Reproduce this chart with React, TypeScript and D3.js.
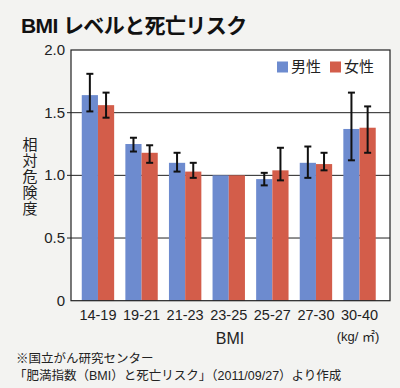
import { useEffect, useRef } from 'react'
import * as d3 from 'd3'

const categories = ['14-19', '19-21', '21-23', '23-25', '25-27', '27-30', '30-40']
const male = [1.64, 1.25, 1.10, 1.00, 0.97, 1.10, 1.37]
const maleLo = [1.51, 1.19, 1.03, null, 0.92, 0.98, 1.12]
const maleHi = [1.81, 1.30, 1.18, null, 1.02, 1.23, 1.66]
const female = [1.56, 1.18, 1.03, 1.00, 1.04, 1.09, 1.38]
const femaleLo = [1.46, 1.10, 0.98, null, 0.96, 1.04, 1.18]
const femaleHi = [1.66, 1.24, 1.10, null, 1.22, 1.18, 1.55]
const yTicks = [0, 0.5, 1.0, 1.5, 2.0]
const seriesNames = ['男性', '女性']
const colors = ['#6d8bcf', '#d35d4a']

const W = 400
const H = 388
const FONT = "'Liberation Sans', 'Noto Sans CJK JP', sans-serif"

export default function App() {
  const svgRef = useRef<SVGSVGElement>(null)

  useEffect(() => {
    const svg = d3.select(svgRef.current)
    svg.selectAll('*').remove()

    const left = 71, right = 390, top = 50, bottom = 300.7

    svg.append('rect').attr('width', W).attr('height', H).attr('fill', '#f3f3f1')

    // Title
    svg.append('text')
      .attr('x', 21).attr('y', 33)
      .style('font-family', FONT).style('font-size', '21px').style('font-weight', 'bold')
      .style('letter-spacing', '-0.6px')
      .attr('fill', '#111')
      .text('BMI レベルと死亡リスク')

    const x = d3.scaleBand<string>().domain(categories).range([left, right])
      .paddingInner(0.257).paddingOuter(0.287).align(0.43)
    const sub = d3.scaleBand<string>().domain(seriesNames).range([0, x.bandwidth()])
    const y = d3.scaleLinear().domain([0, 2]).range([bottom, top])

    // plot area
    svg.append('rect').attr('x', left).attr('y', top)
      .attr('width', right - left).attr('height', bottom - top)
      .attr('fill', '#fff')

    // gridlines
    svg.append('g').selectAll('line').data(yTicks.filter(t => t > 0 && t < 2)).join('line')
      .attr('x1', left - 4).attr('x2', right)
      .attr('y1', d => y(d)).attr('y2', d => y(d))
      .attr('stroke', '#222').attr('stroke-width', 1)

    // y tick labels
    svg.append('g').selectAll('text').data(yTicks).join('text')
      .attr('x', 65).attr('y', d => y(d) + 5)
      .attr('text-anchor', 'end')
      .style('font-family', FONT).style('font-size', '15px')
      .attr('fill', '#222')
      .text(d => (d === 0 ? '0' : d.toFixed(1)))

    // bars
    const series = [
      { name: seriesNames[0], v: male, lo: maleLo, hi: maleHi, c: colors[0] },
      { name: seriesNames[1], v: female, lo: femaleLo, hi: femaleHi, c: colors[1] },
    ]
    series.forEach(s => {
      const g = svg.append('g')
      g.selectAll('rect').data(categories).join('rect')
        .attr('x', d => x(d)! + sub(s.name)!)
        .attr('y', (_, i) => y(s.v[i]))
        .attr('width', sub.bandwidth())
        .attr('height', (_, i) => bottom - y(s.v[i]))
        .attr('fill', s.c)
    })
    series.forEach(s => {
      const g = svg.append('g').attr('stroke', '#111').attr('stroke-width', 2).attr('fill', 'none')
      categories.forEach((cat, i) => {
        const lo = s.lo[i], hi = s.hi[i]
        if (lo == null || hi == null) return
        const cx = x(cat)! + sub(s.name)! + sub.bandwidth() / 2
        g.append('line').attr('x1', cx).attr('x2', cx).attr('y1', y(hi)).attr('y2', y(lo))
        g.append('line').attr('x1', cx - 3.5).attr('x2', cx + 3.5).attr('y1', y(hi)).attr('y2', y(hi))
        g.append('line').attr('x1', cx - 3.5).attr('x2', cx + 3.5).attr('y1', y(lo)).attr('y2', y(lo))
      })
    })

    // frame
    svg.append('rect').attr('x', left).attr('y', top)
      .attr('width', right - left).attr('height', bottom - top)
      .attr('fill', 'none').attr('stroke', '#222').attr('stroke-width', 1.2)

    // legend
    seriesNames.forEach((n, i) => {
      const lx = 277 + i * 53
      svg.append('rect').attr('x', lx).attr('y', 61.5).attr('width', 11).attr('height', 11).attr('fill', colors[i])
      svg.append('text').attr('x', lx + 14).attr('y', 72)
        .style('font-family', FONT).style('font-size', '15px').attr('fill', '#222')
        .text(n)
    })

    // x tick labels
    svg.append('g').selectAll('text').data(categories).join('text')
      .attr('x', d => x(d)! + x.bandwidth() / 2)
      .attr('y', 319.5)
      .attr('text-anchor', 'middle')
      .style('font-family', FONT).style('font-size', '14.5px').attr('fill', '#222')
      .text(d => d)

    svg.append('text').attr('x', 230).attr('y', 343.5).attr('text-anchor', 'middle')
      .style('font-family', FONT).style('font-size', '16px').attr('fill', '#222')
      .text('BMI')
    svg.append('text').attr('x', 358).attr('y', 341).attr('text-anchor', 'middle')
      .style('font-family', FONT).style('font-size', '13px').attr('fill', '#222')
      .text('(kg/ ㎡)')

    // y axis title, stacked vertically
    const yTitle = '相対危険度'
    svg.append('g').selectAll('text').data(yTitle.split('')).join('text')
      .attr('x', 30).attr('y', (_, i) => 150 + i * 16)
      .attr('text-anchor', 'middle')
      .style('font-family', FONT).style('font-size', '15px').attr('fill', '#222')
      .text(d => d)

    // source note
    svg.append('text').attr('x', 16).attr('y', 362.5)
      .style('font-family', FONT).style('font-size', '12.5px').attr('fill', '#222')
      .text('※国立がん研究センター')
    svg.append('text').attr('x', 14).attr('y', 380)
      .style('font-family', FONT).style('font-size', '12.5px').attr('fill', '#222')
      .text('「肥満指数（BMI）と死亡リスク」（2011/09/27）より作成')
  }, [])

  return (
    <svg ref={svgRef} width={W} height={H}
      style={{ position: 'absolute', left: 0, top: 0, display: 'block' }} />
  )
}
